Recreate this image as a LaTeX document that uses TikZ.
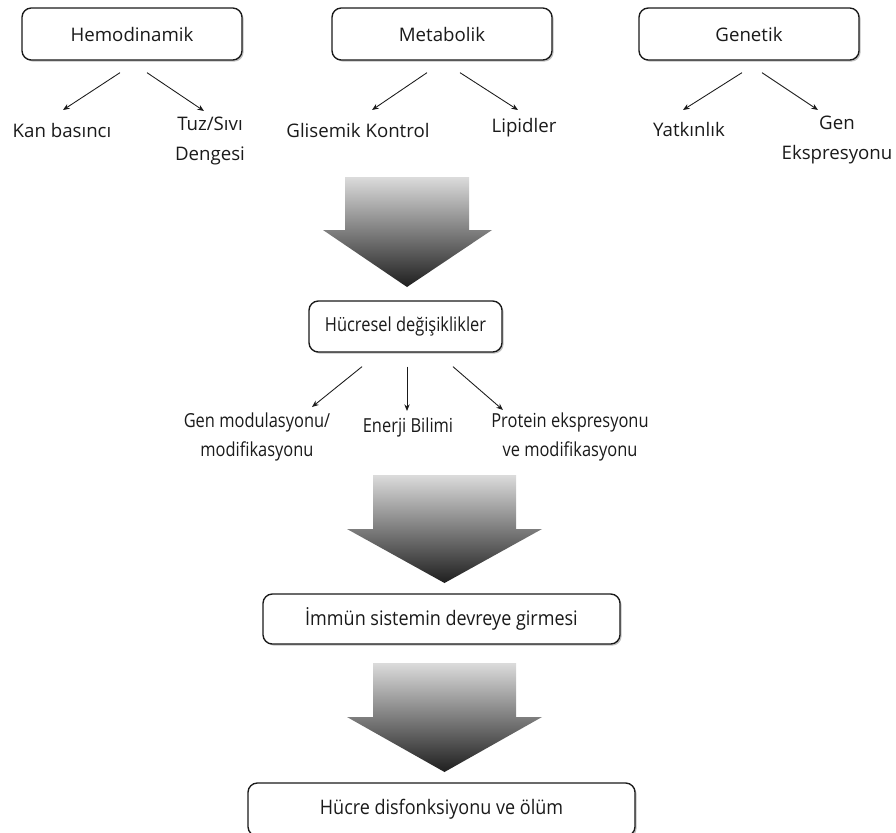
\documentclass[tikz,border=0pt]{standalone}
\usepackage{fontspec}
\setmainfont{Open Sans}
\newfontfamily\midfont{Open Sans}[FakeStretch=0.85]
\newfontfamily\lowfont{Open Sans}[FakeStretch=0.9]
\usepackage{tikz}
\usetikzlibrary{arrows.meta,%
                shadows}
\definecolor{ink}{HTML}{1A1A1A}
\tikzset{
  box/.style={draw=ink, line width=1pt, rounded corners=7pt, fill=white,
    drop shadow={shadow xshift=1.2pt, shadow yshift=-1.2pt, opacity=0.35, fill=black!70},
    text=ink, inner sep=0pt},
  lbl/.style={align=center, inner sep=0pt, text=ink},
  toptxt/.style={font=\fontsize{14pt}{23pt}\selectfont},
  midtxt/.style={font=\midfont\fontsize{14.5pt}{22pt}\selectfont},
  lowtxt/.style={font=\lowfont\fontsize{15pt}{18pt}\selectfont},
  link/.style={-{Stealth[length=5pt,width=4pt]}, draw=ink, line width=0.65pt},
  bigarrow/.style={top color=black!14, bottom color=black!88, draw=none}
}

\begin{document}
\begin{tikzpicture}[x=0.75pt, y=-0.75pt]
        \useasboundingbox (0,0) rectangle (896,832);
        \node[box, toptxt, minimum width=165pt, minimum height=39pt] (hemo) at (132,34){Hemodinamik};
        \node[box, toptxt, minimum width=165pt, minimum height=39pt] (meta) at (442,34){Metabolik};
        \node[box, toptxt, minimum width=165pt, minimum height=39pt] (gene) at (749,34){Genetik};
        \node[lbl, toptxt] (kan) at (62,130){Kan basıncı};
        \node[lbl, toptxt] (tuz) at (210,141){Tuz/Sıvı\\Dengesi};
        \node[lbl, toptxt] (glis) at (358,130){Glisemik Kontrol};
        \node[lbl, toptxt] (lipid) at (524,128){Lipidler};
        \node[lbl, toptxt] (yatk) at (689,129){Yatkınlık};
        \node[lbl, toptxt] (genex) at (837,140){Gen\\Ekspresyonu};
        \draw[link] ([shift={(-12,12)}]hemo.south) -- ([shift={(1,-20)}]kan.center);
        \draw[link] ([shift={(15,12)}]hemo.south) -- ([shift={(-6,-30)}]tuz.center);
        \draw[link] ([shift={(-15,12)}]meta.south) -- ([shift={(14,-20)}]glis.center);
        \draw[link] ([shift={(18,12)}]meta.south) -- ([shift={(-6,-18)}]lipid.center);
        \draw[link] ([shift={(-7,12)}]gene.south) -- ([shift={(-6,-19)}]yatk.center);
        \draw[link] ([shift={(13,12)}]gene.south) -- ([shift={(-19,-30)}]genex.center);
        \shade[bigarrow] (345,177) -- (469,177) -- (469,230) -- (492,230) -- (407,287)
            -- (323,230) -- (345,230) -- cycle;
        \node[box, midtxt, minimum width=144.75pt, minimum height=38.25pt] (hucre) at (405.5,326.5){Hücresel değişiklikler};
        \node[lbl, midtxt] (genmod) at (257,437){Gen modulasyonu/\\modifikasyonu};
        \node[lbl, midtxt] (enerji) at (408,427){Enerji Bilimi};
        \node[lbl, midtxt] (protein) at (570,437){Protein ekspresyonu\\ve modifikasyonu};
        \draw[link] ([shift={(-43.5,14)}]hucre.south) -- ([shift={(55,-30)}]genmod.center);
        \draw[link] ([shift={(1.5,14)}]hucre.south) -- ([shift={(-1,-16)}]enerji.center);
        \draw[link] ([shift={(47.5,14)}]hucre.south) -- ([shift={(-67,-27)}]protein.center);
        \shade[bigarrow] (373,475) -- (516,475) -- (516,529) -- (542,529) -- (444.5,583)
            -- (347,529) -- (373,529) -- cycle;
        \node[box, lowtxt, minimum width=267.75pt, minimum height=37.5pt] (immun) at (441.5,619){İmmün sistemin devreye girmesi};
        \shade[bigarrow] (373,663) -- (516,663) -- (516,717) -- (542,717) -- (444.5,772)
            -- (347,717) -- (373,717) -- cycle;
        \node[box, lowtxt, minimum width=290.25pt, minimum height=39.75pt] (olum) at (441.5,809.5){Hücre disfonksiyonu ve ölüm};
    \end{tikzpicture}
\end{document}
